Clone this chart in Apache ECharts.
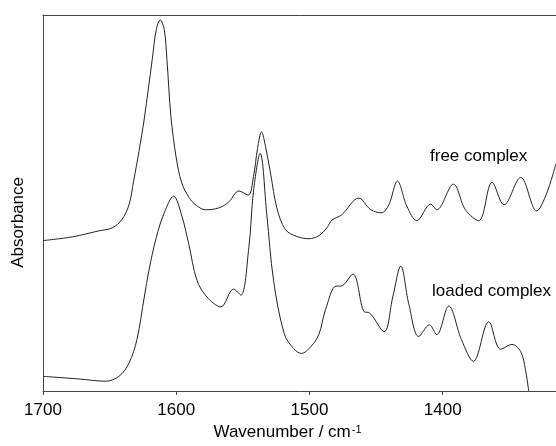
<!DOCTYPE html>
<html>
<head>
<meta charset="utf-8">
<script src="https://cdn.jsdelivr.net/npm/echarts@6/dist/echarts.min.js"></script>
<style>
  html, body { margin: 0; padding: 0; background: #fff; }
  #chart { width: 556px; height: 446px; }
</style>
</head>
<body>
<div id="chart"></div>
<script>
// wavenumber (cm-1) and absorbance (arbitrary units)
const freeWn = [1700, 1678, 1658, 1648, 1641, 1635.5, 1632, 1628, 1624, 1618, 1615, 1612, 1609, 1607, 1604, 1600,
    1596, 1590.5, 1585, 1578, 1568, 1560.5, 1553, 1546, 1542, 1539, 1536, 1533, 1529, 1524.5, 1518, 1509.5,
    1500.5, 1493, 1487, 1483, 1476, 1463, 1454, 1446, 1440.5, 1434, 1427, 1419.5, 1409, 1404.5, 1392, 1383,
    1373, 1363, 1354, 1341.5, 1329.5, 1322, 1315];
const freeAbs = [40.0, 41.0, 42.6, 43.4, 45.5, 49.5, 55.8, 63.7, 72.4, 88.2, 96.1, 98.7, 96.1, 88.2, 73.0, 62.0,
    55.5, 51.5, 49.4, 48.2, 48.7, 50.3, 53.2, 52.1, 57.1, 64.5, 68.9, 65.0, 57.4, 48.7, 42.9, 41.1,
    40.5, 41.3, 43.4, 45.5, 46.8, 51.3, 48.2, 47.4, 49.5, 55.8, 49.2, 45.3, 49.7, 48.2, 55.0, 48.2,
    45.3, 55.5, 49.5, 56.8, 47.9, 52.6, 60.5];

const loadedWn = [1700, 1673, 1653, 1643, 1635.5, 1629.5, 1624, 1620.5, 1615, 1609, 1602, 1596, 1590.5, 1584.5,
    1577, 1566.5, 1557, 1551.5, 1545.5, 1542, 1537, 1532, 1527, 1519, 1512, 1506, 1499, 1493, 1488, 1480,
    1476.5, 1467.5, 1459, 1455, 1444, 1437.5, 1431.5, 1425.5, 1418, 1410, 1404.5, 1395.5, 1386, 1377,
    1365.5, 1356.5, 1348, 1341.5, 1338, 1335.5];
const loadedAbs = [3.9, 3.2, 2.6, 3.9, 7.4, 13.7, 25.0, 32.1, 40.8, 47.4, 51.8, 46.8, 38.9, 29.5,
    25.0, 22.4, 27.1, 25.5, 38.2, 53.2, 63.2, 46.8, 29.5, 15.3, 11.3, 10.0, 11.8, 15.0, 21.6, 27.9,
    27.9, 31.1, 21.1, 20.8, 15.8, 25.0, 33.2, 23.2, 14.5, 17.6, 15.0, 22.6, 13.7, 7.9,
    18.4, 11.1, 12.4, 10.5, 5.8, 0];

const tickValues = [1700, 1600, 1500, 1400];

const font = 'Liberation Sans, Arial, sans-serif';
const inkColor = '#222';

function pairs(xs, ys) {
    return xs.map((x, i) => [x, ys[i]]);
}

const chart = echarts.init(document.getElementById('chart'));

const option = {
    animation: false,
    backgroundColor: '#fff',
    grid: { left: 43, right: 0, top: 15, bottom: 51 },
    xAxis: [
        {
            type: 'value',
            inverse: true,
            min: 1315,
            max: 1700,
            position: 'bottom',
            name: 'Wavenumber / cm{sup|-1}',
            nameLocation: 'middle',
            nameGap: 33,
            nameTextStyle: {
                fontFamily: font,
                fontSize: 17,
                color: '#000',
                padding: [0, 24, 0, 0],
                rich: {
                    sup: { fontFamily: font, fontSize: 11, color: '#000', verticalAlign: 'top', padding: [0, 0, 6, 1] }
                }
            },
            axisLine: { show: true, lineStyle: { color: '#444', width: 1 } },
            axisTick: { show: true, inside: false, length: 4, customValues: tickValues, lineStyle: { color: '#444' } },
            axisLabel: {
                customValues: tickValues,
                formatter: v => String(v),
                fontFamily: font,
                fontSize: 17,
                color: '#000',
                margin: 11
            },
            splitLine: { show: false }
        },
        {
            type: 'value',
            inverse: true,
            min: 1315,
            max: 1700,
            position: 'top',
            axisLine: { show: true, lineStyle: { color: '#444', width: 1 } },
            axisTick: { show: false },
            axisLabel: { show: false },
            splitLine: { show: false }
        }
    ],
    yAxis: {
        type: 'value',
        min: 0,
        max: 100,
        axisLine: { show: true, lineStyle: { color: '#444', width: 1 } },
        axisTick: { show: false },
        axisLabel: { show: false },
        splitLine: { show: false }
    },
    graphic: [
        {
            type: 'text',
            left: 10,
            top: 177,
            rotation: Math.PI / 2,
            originX: 0,
            originY: 0,
            style: { text: 'Absorbance', font: '17px ' + font, fill: '#000' }
        },
        {
            type: 'text',
            left: 430,
            top: 148,
            style: { text: 'free complex', font: '17px ' + font, fill: '#000' }
        },
        {
            type: 'text',
            left: 432,
            top: 283,
            style: { text: 'loaded complex', font: '17px ' + font, fill: '#000' }
        }
    ],
    series: [
        {
            name: 'free complex',
            type: 'line',
            data: pairs(freeWn, freeAbs),
            smooth: 0.35,
            showSymbol: false,
            lineStyle: { color: inkColor, width: 1 }
        },
        {
            name: 'loaded complex',
            type: 'line',
            data: pairs(loadedWn, loadedAbs),
            smooth: 0.35,
            showSymbol: false,
            lineStyle: { color: inkColor, width: 1 }
        }
    ]
};

chart.setOption(option);
</script>
</body>
</html>
